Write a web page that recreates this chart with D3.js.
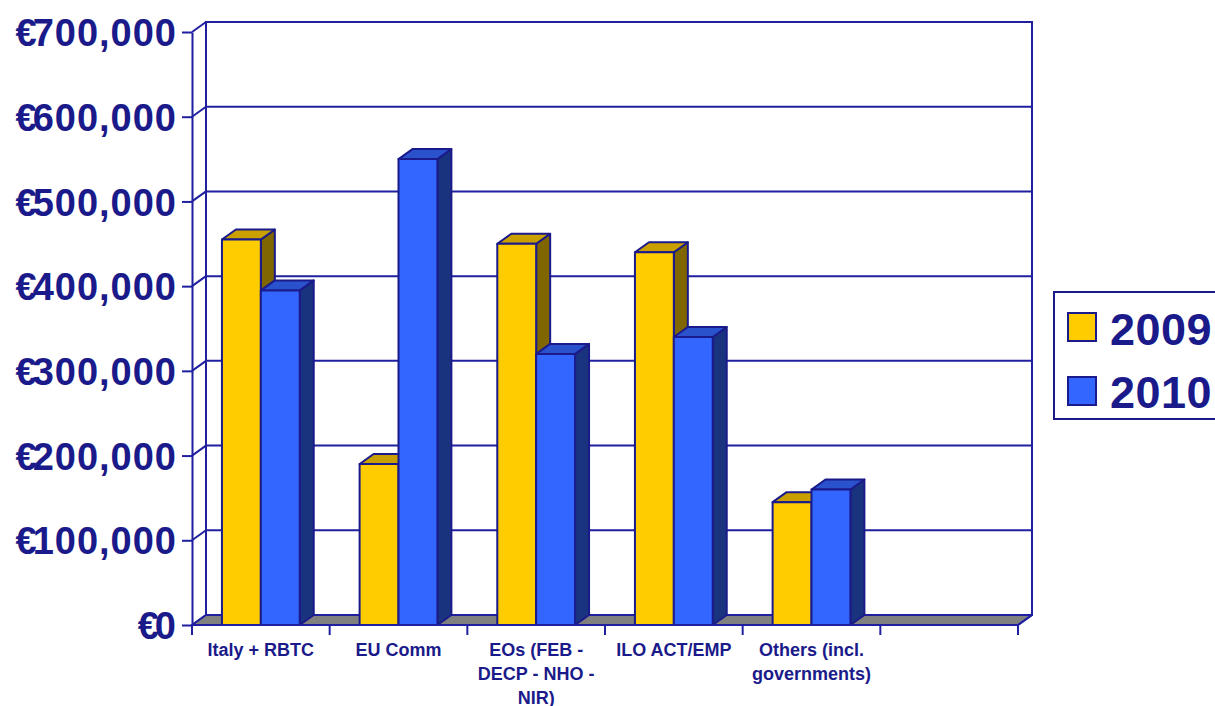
<!DOCTYPE html>
<html>
<head>
<meta charset="utf-8">
<script src="https://cdn.jsdelivr.net/npm/d3@7"></script>
<style>
  body { margin: 0; background: #fff; }
  svg { display: block; font-family: "Liberation Sans", Arial, sans-serif; }
</style>
</head>
<body>
<div id="chart"></div>
<script>
// data
const categories = ["Italy + RBTC", "EU Comm", "EOs (FEB - DECP - NHO - NIR)", "ILO ACT/EMP", "Others (incl. governments)", ""];
const seriesNames = ["2009", "2010"];
const values2009 = [455000, 190000, 450000, 440000, 145000, null];
const values2010 = [395000, 550000, 320000, 340000, 160000, null];
const yTicks = [0, 100000, 200000, 300000, 400000, 500000, 600000, 700000];

const W = 1215, H = 706;
const navy = "#1a1a8a";
const lineCol = "#1f1fa0";
const colors = {
  "2009": { front: "#ffcc00", top: "#c9a000", side: "#806600" },
  "2010": { front: "#3366ff", top: "#2a52cc", side: "#1a337f" }
};
const dx = 14, dy = -10; // depth offset of the 3d box

const svg = d3.select("#chart").append("svg")
  .attr("width", W)
  .attr("height", H);

const x = d3.scaleBand().domain(categories).range([192, 1018]).padding(0);
const xs = d3.scaleBand().domain(seriesNames).range([0, x.bandwidth()])
  .paddingInner(0).paddingOuter(0.77);
const y = d3.scaleLinear().domain([0, 700000]).range([625, 32]);

const x0 = x.range()[0], x1 = x.range()[1];

// back wall
svg.append("rect")
  .attr("x", x0 + dx).attr("y", y(700000) + dy)
  .attr("width", x1 - x0).attr("height", y(0) - y(700000))
  .attr("fill", "#fff").attr("stroke", lineCol).attr("stroke-width", 2);

// gridlines on back wall + diagonals on the side wall
const grid = svg.append("g");
yTicks.filter(d => d > 0).forEach(v => {
  grid.append("line")
    .attr("x1", x0 + dx).attr("x2", x1 + dx)
    .attr("y1", y(v) + dy).attr("y2", y(v) + dy)
    .attr("stroke", lineCol).attr("stroke-width", 2);
});
yTicks.forEach(v => {
  grid.append("line")
    .attr("x1", x0).attr("x2", x0 + dx)
    .attr("y1", y(v)).attr("y2", y(v) + dy)
    .attr("stroke", lineCol).attr("stroke-width", 2);
});
// back left vertical
grid.append("line")
  .attr("x1", x0 + dx).attr("x2", x0 + dx)
  .attr("y1", y(700000) + dy).attr("y2", y(0) + dy)
  .attr("stroke", lineCol).attr("stroke-width", 2);

// floor
svg.append("polygon")
  .attr("points", [[x0, y(0)], [x0 + dx, y(0) + dy], [x1 + dx, y(0) + dy], [x1, y(0)]].join(" "))
  .attr("fill", "#808080").attr("stroke", lineCol).attr("stroke-width", 2)
  .attr("stroke-linejoin", "round");

// bars
const rows = [];
categories.forEach((c, i) => {
  seriesNames.forEach((s, j) => {
    const v = (j === 0 ? values2009 : values2010)[i];
    if (v != null) rows.push({ cat: c, series: s, value: v });
  });
});

const bar = svg.append("g").selectAll("g")
  .data(rows)
  .join("g")
  .attr("stroke", navy)
  .attr("stroke-width", 2)
  .attr("stroke-linejoin", "round");

bar.each(function (d) {
  const g = d3.select(this);
  const bx = x(d.cat) + xs(d.series);
  const bw = xs.bandwidth();
  const top = y(d.value), base = y(0);
  const c = colors[d.series];
  g.append("polygon")
    .attr("points", [[bx + bw, top], [bx + bw + dx, top + dy], [bx + bw + dx, base + dy], [bx + bw, base]].join(" "))
    .attr("fill", c.side);
  g.append("polygon")
    .attr("points", [[bx, top], [bx + dx, top + dy], [bx + bw + dx, top + dy], [bx + bw, top]].join(" "))
    .attr("fill", c.top);
  g.append("rect")
    .attr("x", bx).attr("y", top)
    .attr("width", bw).attr("height", base - top)
    .attr("fill", c.front);
});

// y axis
const yAxis = d3.axisLeft(y)
  .tickValues(yTicks)
  .tickSize(10)
  .tickSizeOuter(0)
  .tickPadding(5)
  .tickFormat(d => "€" + d3.format(",")(d));

const gy = svg.append("g")
  .attr("transform", `translate(${x0},0)`)
  .call(yAxis);
gy.select(".domain").attr("stroke", lineCol).attr("stroke-width", 2);
gy.selectAll(".tick line").attr("stroke", lineCol).attr("stroke-width", 2);
gy.selectAll(".tick text")
  .attr("fill", navy)
  .attr("font-size", 38)
  .attr("font-weight", "bold")
  .attr("letter-spacing", 1)
  .attr("dy", "0.36em")
  .text(null)
  .each(function (d) {
    const t = d3.select(this);
    t.append("tspan").text("€");
    t.append("tspan").attr("dx", -5).text(d3.format(",")(d));
  });

// x axis: front floor edge, ticks on category boundaries, wrapped labels
const gx = svg.append("g");
gx.append("line")
  .attr("x1", x0).attr("x2", x1)
  .attr("y1", y(0)).attr("y2", y(0))
  .attr("stroke", lineCol).attr("stroke-width", 2);
gx.selectAll(".xt")
  .data(categories.map(c => x(c)).concat([x1]))
  .join("line")
  .attr("class", "xt")
  .attr("x1", d => d).attr("x2", d => d)
  .attr("y1", y(0)).attr("y2", y(0) + 10)
  .attr("stroke", lineCol).attr("stroke-width", 2);
gx.append("line")
  .attr("x1", x1).attr("x2", x1 + dx)
  .attr("y1", y(0)).attr("y2", y(0) + dy)
  .attr("stroke", lineCol).attr("stroke-width", 2);

gx.selectAll(".xl")
  .data(categories.filter(c => c))
  .join("text")
  .attr("class", "xl")
  .attr("x", d => x(d) + x.bandwidth() / 2)
  .attr("y", 656)
  .attr("text-anchor", "middle")
  .attr("fill", navy)
  .attr("font-size", 18)
  .attr("font-weight", "bold")
  .text(d => d)
  .call(wrap, 125);

function wrap(text, width) {
  text.each(function () {
    const t = d3.select(this);
    const words = t.text().split(/\s+/);
    const cx = t.attr("x");
    t.text(null);
    let line = [];
    let tspan = t.append("tspan").attr("x", cx).attr("dy", 0);
    words.forEach(w => {
      line.push(w);
      tspan.text(line.join(" "));
      if (tspan.node().getComputedTextLength() > width && line.length > 1) {
        line.pop();
        tspan.text(line.join(" "));
        line = [w];
        tspan = t.append("tspan").attr("x", cx).attr("dy", 24).text(w);
      }
    });
  });
}

// legend
const legend = svg.append("g");
legend.append("rect")
  .attr("x", 1054).attr("y", 292)
  .attr("width", 200).attr("height", 127)
  .attr("fill", "#fff").attr("stroke", navy).attr("stroke-width", 2);
seriesNames.forEach((s, i) => {
  legend.append("rect")
    .attr("x", 1068).attr("y", 313 + i * 64)
    .attr("width", 28).attr("height", 28)
    .attr("fill", colors[s].front).attr("stroke", navy).attr("stroke-width", 2);
  legend.append("text")
    .attr("x", 1110).attr("y", 345 + i * 63)
    .attr("fill", navy)
    .attr("font-size", 45)
    .attr("font-weight", "bold")
    .attr("letter-spacing", 0.5)
    .text(s);
});
</script>
</body>
</html>
